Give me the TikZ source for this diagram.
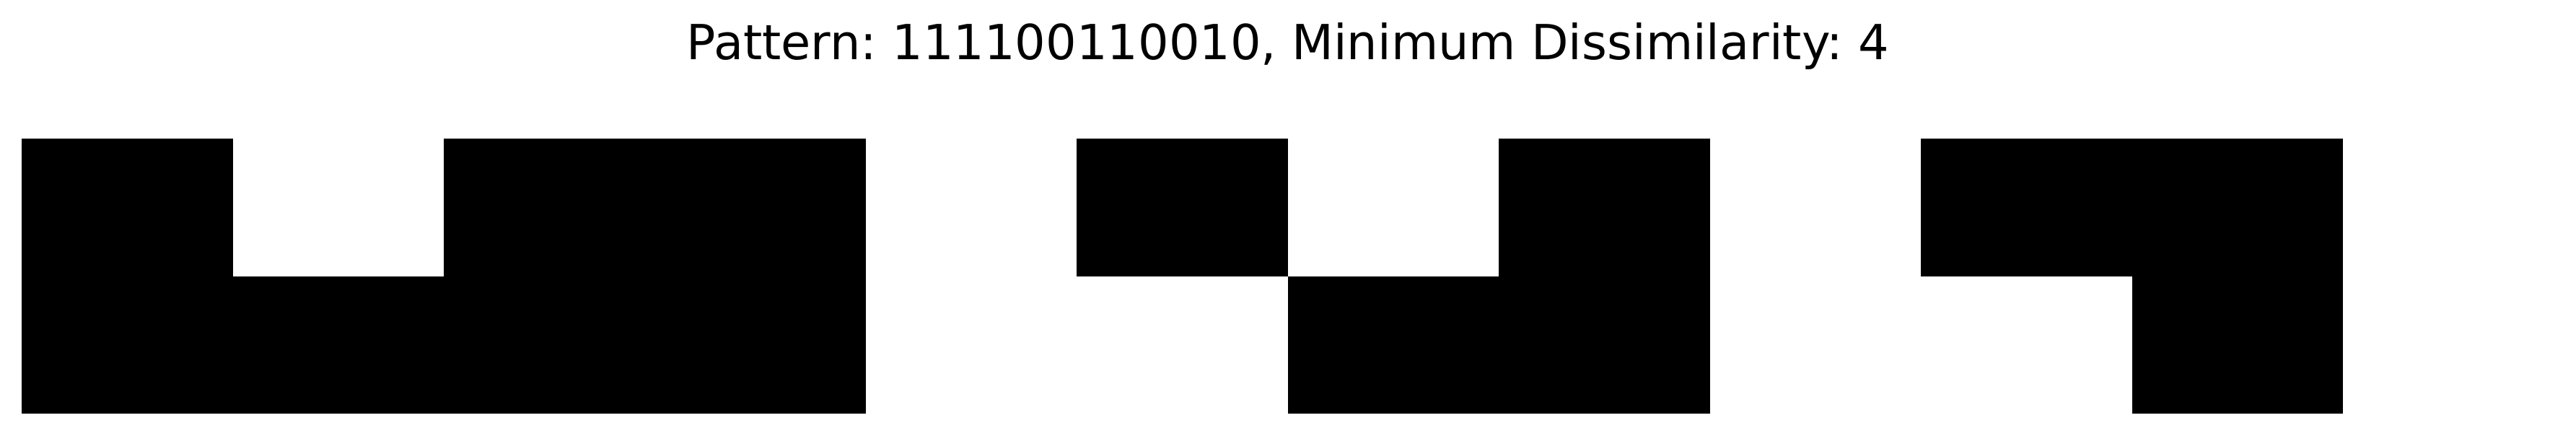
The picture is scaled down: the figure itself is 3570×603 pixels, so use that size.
\documentclass[tikz,border=0pt]{standalone}
\usepackage{fontspec}
\setmainfont{DejaVu Sans}
\usetikzlibrary{positioning}
\frenchspacing

\begin{document}
\begin{tikzpicture}[x=0.2pt,y=-0.2pt]
\tikzset{
	cellon/.style={fill=black,draw=none},
	titletext/.style={anchor=base,inner sep=0pt,font=\fontsize{13.4}{16}\selectfont}
}

\def\cellW{292.45}
\def\cellH{190.5}
\def\gridX{30}
\def\gridY{192}

\useasboundingbox (0,0) rectangle (3570,603);

% title
\node[titletext] (title) at (1785,82) {Pattern: 111100110010, Minimum Dissimilarity: 4};

% top row
\foreach \b [count=\i from 0] in {1,0,1,1,0,1,0,1,0,1,1,0}{
	\ifnum\b=1
		\fill[cellon] (\gridX+\i*\cellW,\gridY) rectangle (\gridX+\i*\cellW+\cellW+0.5,\gridY+\cellH+0.5);
	\fi
}

% bottom row
\foreach \b [count=\i from 0] in {1,1,1,1,0,0,1,1,0,0,1,0}{
	\ifnum\b=1
		\fill[cellon] (\gridX+\i*\cellW,\gridY+\cellH) rectangle (\gridX+\i*\cellW+\cellW+0.5,\gridY+2*\cellH);
	\fi
}

\end{tikzpicture}
\end{document}
